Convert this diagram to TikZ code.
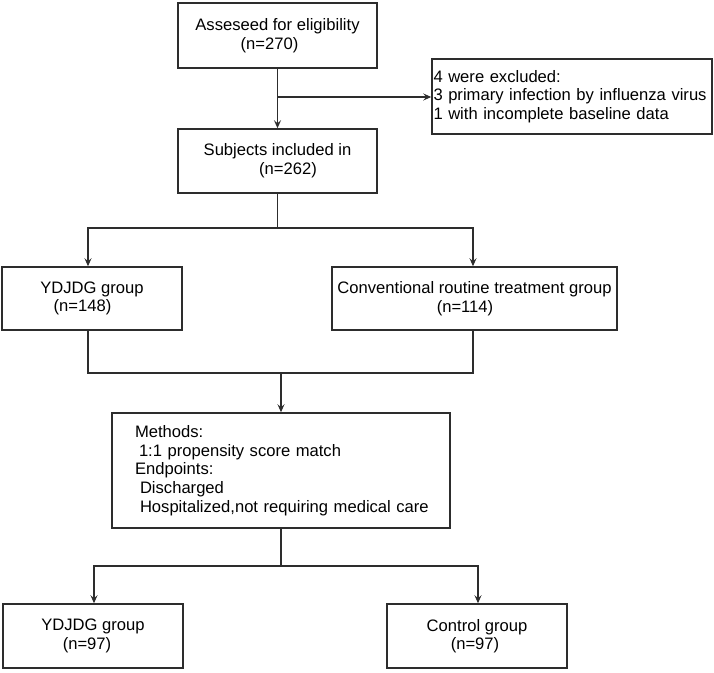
\documentclass[tikz,border=0pt]{standalone}
\usepackage{fontspec}
\setmainfont{Liberation Sans}
\usetikzlibrary{arrows.meta,calc}
\definecolor{linec}{RGB}{45,45,45}
\begin{document}
\begin{tikzpicture}[x=1pt,y=-1pt,
  box/.style={draw=linec, line width=1.5pt, rectangle, inner sep=0pt, align=center,
    font=\fontsize{16.6}{18.6}\selectfont, text=black},
  leftbox/.style={box, align=left},
  conn/.style={draw=linec, line width=1.5pt},
  arr/.style={conn, -{Stealth[length=8pt,width=7pt,inset=3pt]}}]
\useasboundingbox (0,0) rectangle (714,672);

\node[box, minimum width=199pt, minimum height=65pt] (top) at (277.5,35.5)
  {Asseseed for eligibility\\(n=270)\hspace*{16pt}};
\node[leftbox, text width=277pt, inner xsep=1.5pt, minimum height=75pt] (excl) at (572,96.5)
  {4 were excluded:\\3 primary infection by influenza virus\\1 with incomplete baseline data};
\node[box, minimum width=199pt, minimum height=64pt] (subj) at (277.5,161)
  {Subjects included in\\\hspace*{21pt}(n=262)};
\node[box, minimum width=180pt, minimum height=63pt] (ydj1) at (92,298.5)
  {YDJDG group\\(n=148)\hspace*{19pt}};
\node[box, minimum width=285pt, minimum height=63pt] (conv) at (474.5,298.5)
  {Conventional routine treatment group\\(n=114)\hspace*{19pt}};
\node[leftbox, text width=310pt, inner xsep=14pt, minimum height=115pt] (meth) at (281,470.5)
  {\hspace*{9pt}Methods:\\\hspace*{13pt}1:1 propensity score match\\\hspace*{9pt}Endpoints:\\\hspace*{14pt}Discharged\\\hspace*{14pt}Hospitalized,not requiring medical care};
\node[box, minimum width=180pt, minimum height=64pt] (ydj2) at (93,636)
  {YDJDG group\\(n=97)\hspace*{12pt}};
\node[box, minimum width=180pt, minimum height=64pt] (ctrl) at (477,636)
  {Control group\\(n=97)\hspace*{4pt}};

% top to subjects, with exclusion branch
\draw[arr] (top.south) -- (subj.north);
\coordinate (j1) at (277.5,97);
\draw[arr] (j1) -- (j1 -| excl.west);

% subjects split
\coordinate (j2) at (277.5,228);
\coordinate (j2l) at (88,228);
\coordinate (j2r) at (473,228);
\draw[conn] (subj.south) -- (j2);
\draw[arr] (j2) -- (j2l) -- (j2l |- ydj1.north);
\draw[arr] (j2) -- (j2r) -- (j2r |- conv.north);

% join into methods
\coordinate (j3l) at (88,373);
\coordinate (j3r) at (473,373);
\coordinate (j3) at (281,373);
\draw[conn] (j3l |- ydj1.south) -- (j3l) -- (j3r) -- (j3r |- conv.south);
\draw[arr] (j3) -- (meth.north);

% methods split
\coordinate (j4) at (281,566);
\coordinate (j4l) at (94,566);
\coordinate (j4r) at (478,566);
\draw[conn] (meth.south) -- (j4);
\draw[arr] (j4) -- (j4l) -- (j4l |- ydj2.north);
\draw[arr] (j4) -- (j4r) -- (j4r |- ctrl.north);
\end{tikzpicture}
\end{document}
